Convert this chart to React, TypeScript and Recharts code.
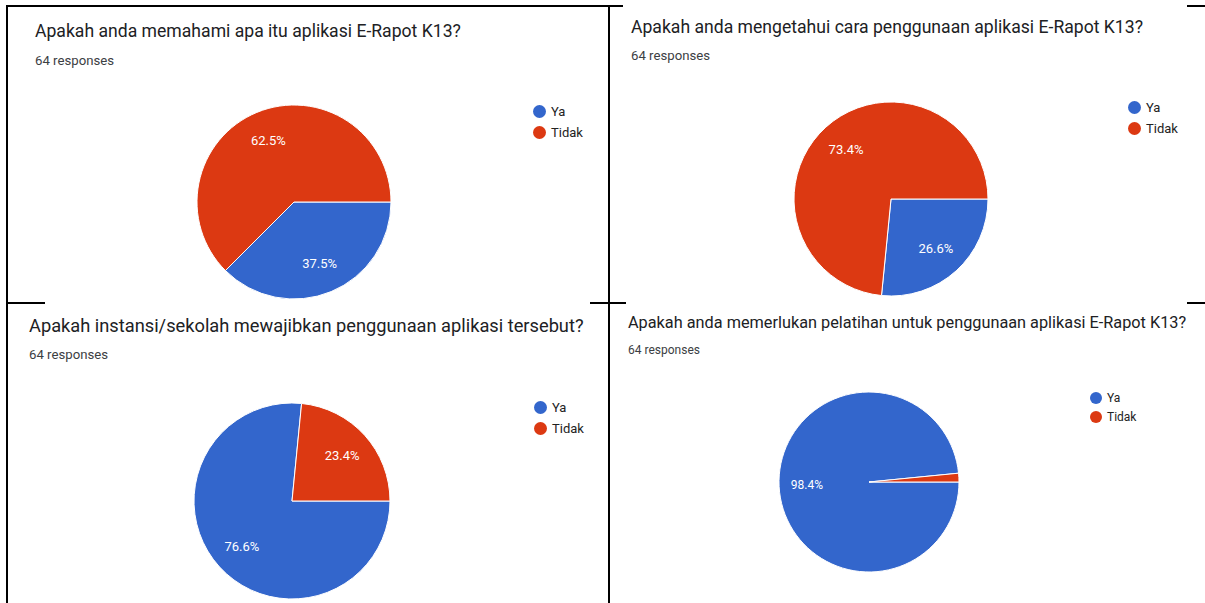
import React from 'react';
import { PieChart, Pie, Cell, Legend } from 'recharts';

// answer options and colours (Google Forms palette)
const answers = ['Ya', 'Tidak'];
const answerColors = ['#3366cc', '#dc3912'];

// 64 responses per question: [Ya, Tidak]
const q1Counts = [24, 40];
const q2Counts = [17, 47];
const q3Counts = [49, 15];
const q4Counts = [63, 1];

const questions = [
  'Apakah anda memahami apa itu aplikasi E-Rapot K13?',
  'Apakah anda mengetahui cara penggunaan aplikasi E-Rapot K13?',
  'Apakah instansi/sekolah mewajibkan penggunaan aplikasi tersebut?',
  'Apakah anda memerlukan pelatihan untuk penggunaan aplikasi E-Rapot K13?',
];
const responseText = '64 responses';

const RADIAN = Math.PI / 180;
const FONT = 'Roboto, "Noto Sans", Arial, sans-serif';

const toData = (counts: number[]) => answers.map((name, i) => ({ name, value: counts[i] }));

function makeLabel(fontSize: number) {
  return (props: any) => {
    const { cx, cy, midAngle, outerRadius, percent } = props;
    // google hides text on very thin slices
    if (percent < 0.05) return null;
    const r = outerRadius * 0.69;
    const x = cx + r * Math.cos(-midAngle * RADIAN);
    const y = cy + r * Math.sin(-midAngle * RADIAN);
    return (
      <text x={x} y={y} fill="#ffffff" textAnchor="middle" dominantBaseline="central" fontSize={fontSize} fontFamily={FONT}>
        {(percent * 100).toFixed(1)}%
      </text>
    );
  };
}

function LegendList(props: any) {
  const { payload, fontSize, dot, gap } = props;
  const items = [...(payload || [])].sort(
    (a: any, b: any) => answers.indexOf(a.value) - answers.indexOf(b.value)
  );
  return (
    <div style={{ fontFamily: FONT, fontSize, color: '#222222' }}>
      {items.map((entry: any) => (
        <div key={entry.value} style={{ display: 'flex', alignItems: 'center', height: gap }}>
          <span
            style={{
              width: dot,
              height: dot,
              borderRadius: '50%',
              background: entry.color,
              marginRight: 5,
              display: 'inline-block',
            }}
          />
          <span>{entry.value}</span>
        </div>
      ))}
    </div>
  );
}

interface PanelProps {
  left: number;
  top: number;
  title: string;
  titleX: number;
  titleY: number;
  titleSize: number;
  respY: number;
  respSize: number;
  counts: number[];
  cx: number;
  cy: number;
  radius: number;
  labelSize: number;
  legendX: number;
  legendY: number;
  legendSize: number;
  legendDot: number;
  legendGap: number;
}

function Panel(p: PanelProps) {
  return (
    <div style={{ position: 'absolute', left: p.left, top: p.top, width: 595, height: 300 }}>
      <PieChart width={595} height={300} margin={{ top: 0, right: 0, bottom: 0, left: 0 }}>
        <Pie
          data={toData(p.counts)}
          dataKey="value"
          nameKey="name"
          cx={p.cx}
          cy={p.cy}
          outerRadius={p.radius}
          startAngle={0}
          endAngle={-360}
          stroke="#ffffff"
          strokeWidth={1}
          label={makeLabel(p.labelSize)}
          labelLine={false}
          isAnimationActive={false}
        >
          {answers.map((a, i) => (
            <Cell key={a} fill={answerColors[i]} />
          ))}
        </Pie>
        <Legend
          layout="vertical"
          align="right"
          verticalAlign="top"
          wrapperStyle={{ left: p.legendX, top: p.legendY, width: 80 }}
          content={(lp: any) => (
            <LegendList payload={lp.payload} fontSize={p.legendSize} dot={p.legendDot} gap={p.legendGap} />
          )}
        />
      </PieChart>
      <div
        style={{
          position: 'absolute',
          left: p.titleX,
          top: p.titleY,
          fontFamily: FONT,
          fontSize: p.titleSize,
          color: '#202124',
          whiteSpace: 'nowrap',
          lineHeight: '22px',
        }}
      >
        {p.title}
      </div>
      <div
        style={{
          position: 'absolute',
          left: p.titleX,
          top: p.respY,
          fontFamily: FONT,
          fontSize: p.respSize,
          color: '#3c4043',
          whiteSpace: 'nowrap',
          lineHeight: '16px',
        }}
      >
        {responseText}
      </div>
    </div>
  );
}

const line = (left: number, top: number, width: number, height: number) => (
  <div style={{ position: 'absolute', left, top, width, height, background: '#000000' }} />
);

export default function App() {
  return (
    <div style={{ position: 'absolute', left: 0, top: 0, width: 1205, height: 603, background: '#ffffff', overflow: 'hidden' }}>
      <Panel
        left={0} top={0} title={questions[0]} titleX={35} titleY={20} titleSize={17.6} respY={53} respSize={13.2}
        counts={q1Counts} cx={294} cy={202} radius={97} labelSize={13}
        legendX={533} legendY={101} legendSize={13} legendDot={13} legendGap={21}
      />
      <Panel
        left={610} top={0} title={questions[1]} titleX={21} titleY={16} titleSize={17.6} respY={48} respSize={13.2}
        counts={q2Counts} cx={281} cy={199} radius={97} labelSize={13}
        legendX={518} legendY={97} legendSize={13} legendDot={13} legendGap={21}
      />
      <Panel
        left={0} top={303} title={questions[2]} titleX={29} titleY={12} titleSize={18.25} respY={44} respSize={13.2}
        counts={q3Counts} cx={292} cy={198} radius={98} labelSize={13}
        legendX={534} legendY={94} legendSize={13} legendDot={13} legendGap={21}
      />
      <Panel
        left={610} top={303} title={questions[3]} titleX={18} titleY={9} titleSize={16.3} respY={39} respSize={12}
        counts={q4Counts} cx={259} cy={179} radius={90} labelSize={12}
        legendX={480} legendY={85} legendSize={12} legendDot={12} legendGap={19}
      />
      {line(6, 5, 617, 2)}
      {line(1187, 5, 18, 2)}
      {line(6, 5, 2, 598)}
      {line(608, 5, 2, 598)}
      {line(6, 302, 39, 2)}
      {line(590, 302, 36, 2)}
      {line(1187, 302, 18, 2)}
    </div>
  );
}
